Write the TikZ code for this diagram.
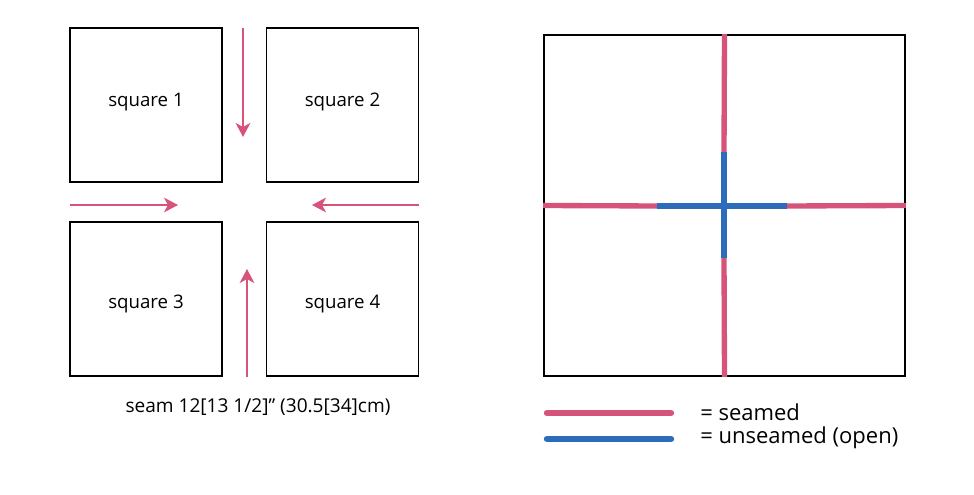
\documentclass[tikz,border=0pt]{standalone}
\usepackage{fontspec}
\setmainfont{Open Sans}
\usetikzlibrary{arrows.meta,positioning}
\definecolor{seampink}{RGB}{214,84,122}
\definecolor{openblue}{RGB}{45,108,186}
\tikzset{
  patch/.style={draw,line width=1.4pt,minimum width=114pt,minimum height=115.5pt,inner sep=0pt},
  patchname/.style={font=\fontsize{14}{17}\selectfont},
  pressarrow/.style={seampink,line width=1.5pt,-{Stealth[length=10.5pt,width=11pt,inset=3pt]}},
  seamline/.style={seampink,line width=4pt},
  openline/.style={openblue,line width=4pt},
  keyline/.style={line width=4.8pt,line cap=round},
  keytext/.style={anchor=west,inner sep=0pt,font=\fontsize{16.5}{20}\selectfont},
}

\begin{document}
\begin{tikzpicture}[x=0.75pt,y=-0.75pt]
  \useasboundingbox (0,0) rectangle (974,495);

  % four separate squares
  \node[patch,label={[patchname,yshift=2.5pt]center:square 1}] (sq1) at (146,105) {};
  \node[patch,label={[patchname,yshift=2.5pt]center:square 2}] (sq2) at (342.5,105) {};
  \node[patch,label={[patchname,yshift=-3.5pt]center:square 3}] (sq3) at (146,299) {};
  \node[patch,label={[patchname,yshift=-3.5pt]center:square 4}] (sq4) at (342.5,299) {};

  % pressing directions
  \coordinate (dn0) at (243,28);  \coordinate (dn1) at (243,137);
  \coordinate (rt0) at (70,205);  \coordinate (rt1) at (178,205);
  \coordinate (lf0) at (419,205); \coordinate (lf1) at (312,205);
  \coordinate (up0) at (247,377); \coordinate (up1) at (247,269);
  \draw[pressarrow] (dn0) -- (dn1);
  \draw[pressarrow] (rt0) -- (rt1);
  \draw[pressarrow] (lf0) -- (lf1);
  \draw[pressarrow] (up0) -- (up1);

  \node[font=\fontsize{14.3}{17}\selectfont] (seamlbl) at (258,407) {seam 12[13 1/2]” (30.5[34]cm)};

  % joined block
  \node[draw,line width=1.4pt,minimum width=270.75pt,minimum height=255.75pt,inner sep=0pt] (block) at (724.5,205.5) {};
  \coordinate (vtop) at (724,152);
  \coordinate (vbot) at (724,258);
  \coordinate (hlft) at (657,206);
  \coordinate (hrgt) at (787,206);
  \draw[seamline] (block.north) -- (vtop);
  \draw[seamline] (vbot) -- (block.south);
  \draw[seamline] (block.west) -- (hlft);
  \draw[seamline] (hrgt) -- (block.east);
  \draw[openline] (vtop) -- (vbot);
  \draw[openline] (hlft) -- (hrgt);

  % key
  \coordinate (k1a) at (547,413); \coordinate (k1b) at (671,413);
  \coordinate (k2a) at (547,439); \coordinate (k2b) at (671,439);
  \draw[keyline,seampink] (k1a) -- (k1b);
  \draw[keyline,openblue] (k2a) -- (k2b);
  \node[keytext] (key1) at (700,412) {= seamed};
  \node[keytext] (key2) at (700,438) {= unseamed (open)};
\end{tikzpicture}
\end{document}
